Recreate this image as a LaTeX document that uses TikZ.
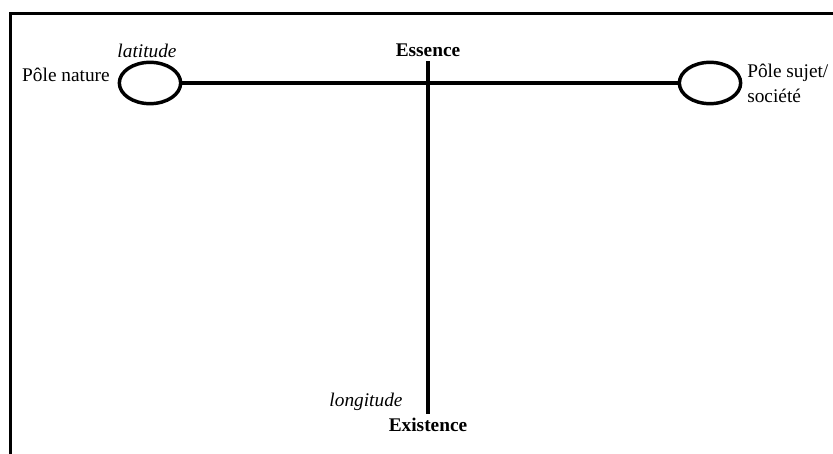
\documentclass[tikz,border=0pt]{standalone}
\usepackage{fontspec}
\setmainfont{Liberation Serif}
\usepackage{tikz}
\usetikzlibrary{shapes.geometric,positioning}

\begin{document}
\begin{tikzpicture}[x=0.75pt,y=-0.75pt,
  pole/.style={draw, ellipse, line width=2.6pt, minimum width=46pt, minimum height=31pt, inner sep=0pt},
  axisline/.style={line width=2.6pt},
  lab/.style={font=\fontsize{14.5}{18.5}\selectfont, inner sep=0pt}]
 \useasboundingbox (0,0) rectangle (833,454);
 % frame (open at right and bottom)
 \draw[line width=1.6pt] (10.5,454) -- (10.5,13.5) -- (833,13.5);
 % poles and axes
 \node[pole] (natpole) at (150,83) {};
 \node[pole] (socpole) at (710,83) {};
 \coordinate (esstop) at (428,61);
 \coordinate (exibot) at (428,414);
 \draw[axisline] (natpole) -- (socpole);
 \draw[axisline] (esstop) -- (exibot);
 % labels
 \node[lab, font=\fontsize{14.5}{18.5}\selectfont\bfseries, anchor=base] (essence) at (428,56) {Essence};
 \node[lab, font=\fontsize{14.5}{18.5}\selectfont\bfseries, anchor=base] (existence) at (428,431) {Existence};
 \node[lab, font=\fontsize{14.5}{18.5}\selectfont\itshape, anchor=base] (latitude) at (147,57) {latitude};
 \node[lab, font=\fontsize{14.5}{18.5}\selectfont\itshape, anchor=base] (longitude) at (366,406) {longitude};
 \node[lab, anchor=base east] (natlabel) at (110,81) {Pôle nature};
 \node[lab, anchor=base west, align=left] (soclabel) at (747,102) {Pôle sujet/\\société};
\end{tikzpicture}
\end{document}
